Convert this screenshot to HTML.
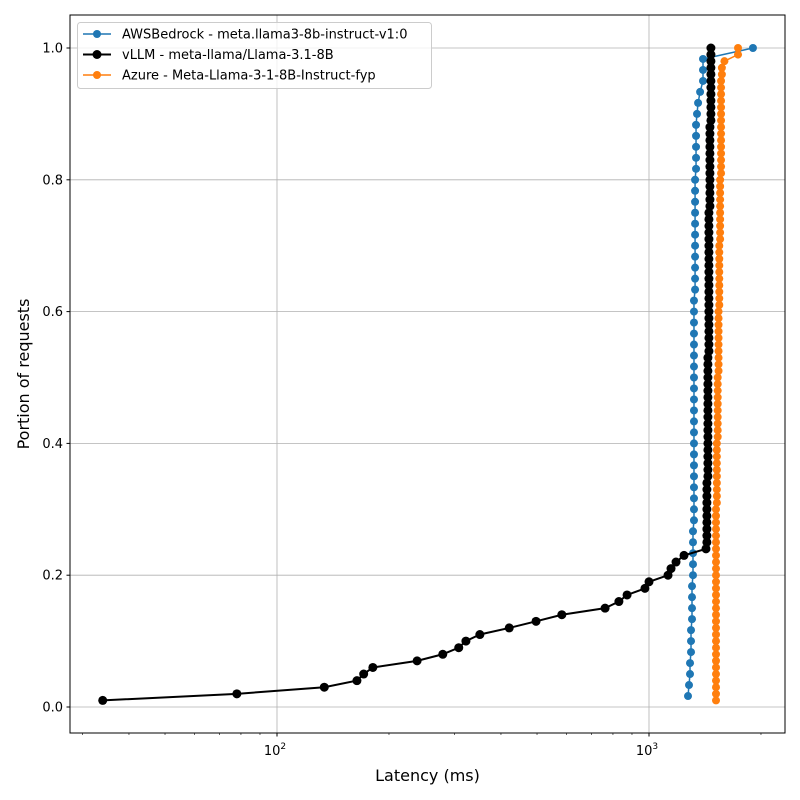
<!DOCTYPE html>
<html><head><meta charset="utf-8"><style>
body{margin:0;background:#fff}
svg{display:block;font-family:"DejaVu Sans","Liberation Sans",sans-serif}
</style></head><body>
<svg id="chart" width="800" height="800" viewBox="0 0 800 800"></svg>
<script>
const seriesNames=["AWSBedrock - meta.llama3-8b-instruct-v1:0","vLLM - meta-llama/Llama-3.1-8B","Azure - Meta-Llama-3-1-8B-Instruct-fyp"];
const seriesColors=["#1f77b4","#000000","#ff7f0e"];
const yTicks=[0,0.2,0.4,0.6,0.8,1.0];
const yTickLabels=["0.0","0.2","0.4","0.6","0.8","1.0"];
const xMajor=[100,1000];
const xMinor=[30,40,50,60,70,80,90,200,300,400,500,600,700,800,900,2000];
// AWS: 60 points, portion i/60
const awsLatency=[1273,1281,1289,1289,1297,1297,1297,1305,1305,1305,1305,1313,1313,1313,1313,1313,1321,1321,1321,1321,1321,1321,1321,1321,1321,1321,1321,1321,1321,1321,1321,1321,1321,1321,1321,1321,1321,1330,1330,1330,1330,1330,1330,1330,1330,1330,1330,1330,1338,1338,1338,1338,1338,1346,1355,1372,1397,1397,1397,1903];
const awsPortion=awsLatency.map((_,i)=>(i+1)/60);
// vLLM: 100 points
const vllmLow=[34,78,134,164,171,181,238,279,308,322,351,421,497,583,762,830,873,975,1000,1125,1146,1182,1242,1423];
const vllmHigh=[1431,1440,1449,1458,1467];
const vllmHighCounts=[10,19,22,13,12];
// Azure: 100 points
const azureLevels=[1514,1522,1530,1538,1545,1553,1562,1570,1595,1735];
const azureCounts=[30,10,10,10,10,10,15,2,1,2];

const svg=document.getElementById('chart');
const NS='http://www.w3.org/2000/svg';
const L=70,R=785,T=15,B=733;
const xs=v=>649+(Math.log10(v)-3)*372;
const ys=v=>707-v*659;
function mk(tag,attrs,parent){const e=document.createElementNS(NS,tag);for(const k in attrs)e.setAttribute(k,attrs[k]);(parent||svg).appendChild(e);return e;}

xMajor.forEach(v=>{const g=mk('line',{x1:xs(v),x2:xs(v),y1:T,y2:B,stroke:'#b0b0b0','stroke-width':0.8});

});
yTicks.forEach(v=>{const g=mk('line',{x1:L,x2:R,y1:ys(v),y2:ys(v),stroke:'#b0b0b0','stroke-width':0.8});

});

function series(xv,yv,color,lw,r,name){
  const g=mk('g',{});
  
  
  mk('polyline',{points:xv.map((x,i)=>xs(x)+','+ys(yv[i])).join(' '),fill:'none',stroke:color,'stroke-width':lw},g);
  xv.forEach((x,i)=>{const c=mk('circle',{cx:xs(x),cy:ys(yv[i]),r:r,fill:color},g);
  
  });
}
const vllmLat=vllmLow.slice();vllmHigh.forEach((v,i)=>{for(let k=0;k<vllmHighCounts[i];k++)vllmLat.push(v);});
const vllmPortion=vllmLat.map((_,i)=>(i+1)/vllmLat.length);
const azLat=[];azureLevels.forEach((v,i)=>{for(let k=0;k<azureCounts[i];k++)azLat.push(v);});
const azPortion=azLat.map((_,i)=>(i+1)/azLat.length);
series(awsLatency,awsPortion,seriesColors[0],1.5,4,'aws-series');
series(vllmLat,vllmPortion,seriesColors[1],2,4.5,'vllm-series');
series(azLat,azPortion,seriesColors[2],1.5,4,'azure-series');

const fr=mk('rect',{x:L,y:T,width:R-L,height:B-T,fill:'none',stroke:'#000','stroke-width':1});


yTicks.forEach((v,i)=>{mk('line',{x1:L-3.5,x2:L,y1:ys(v),y2:ys(v),stroke:'#000'});
const t=mk('text',{x:L-7,y:ys(v)+4.5,'text-anchor':'end','font-size':13});t.textContent=yTickLabels[i];

});
xMajor.forEach(v=>{mk('line',{x1:xs(v),x2:xs(v),y1:B,y2:B+3.5,stroke:'#000'});
const t=mk('text',{x:xs(v)-2,y:B+22,'text-anchor':'middle','font-size':13});t.textContent='10';
const s=mk('tspan',{dy:-6,'font-size':9});s.textContent=String(Math.round(Math.log10(v)));t.appendChild(s);

});
xMinor.forEach(v=>mk('line',{x1:xs(v),x2:xs(v),y1:B,y2:B+2,stroke:'#000','stroke-width':0.6}));
let t=mk('text',{x:(L+R)/2,y:781,'text-anchor':'middle','font-size':16});t.textContent='Latency (ms)';


t=mk('text',{x:29,y:(T+B)/2,'text-anchor':'middle','font-size':16,transform:'rotate(-90 29 '+((T+B)/2)+')'});t.textContent='Portion of requests';


const lg=mk('g',{});


mk('rect',{x:77.5,y:22.5,width:354,height:66,rx:3,fill:'#fff','fill-opacity':0.8,stroke:'#ccc'},lg);
seriesNames.forEach((n,i)=>{const y=34+i*20.5;
const e=mk('g',{},lg);


mk('line',{x1:83,x2:111,y1:y,y2:y,stroke:seriesColors[i],'stroke-width':i==1?2:1.5},e);
mk('circle',{cx:97,cy:y,r:i==1?4.5:4,fill:seriesColors[i]},e);
const tx=mk('text',{x:122,y:y+4.5,'font-size':13},e);tx.textContent=n;});
</script>
</body></html>
